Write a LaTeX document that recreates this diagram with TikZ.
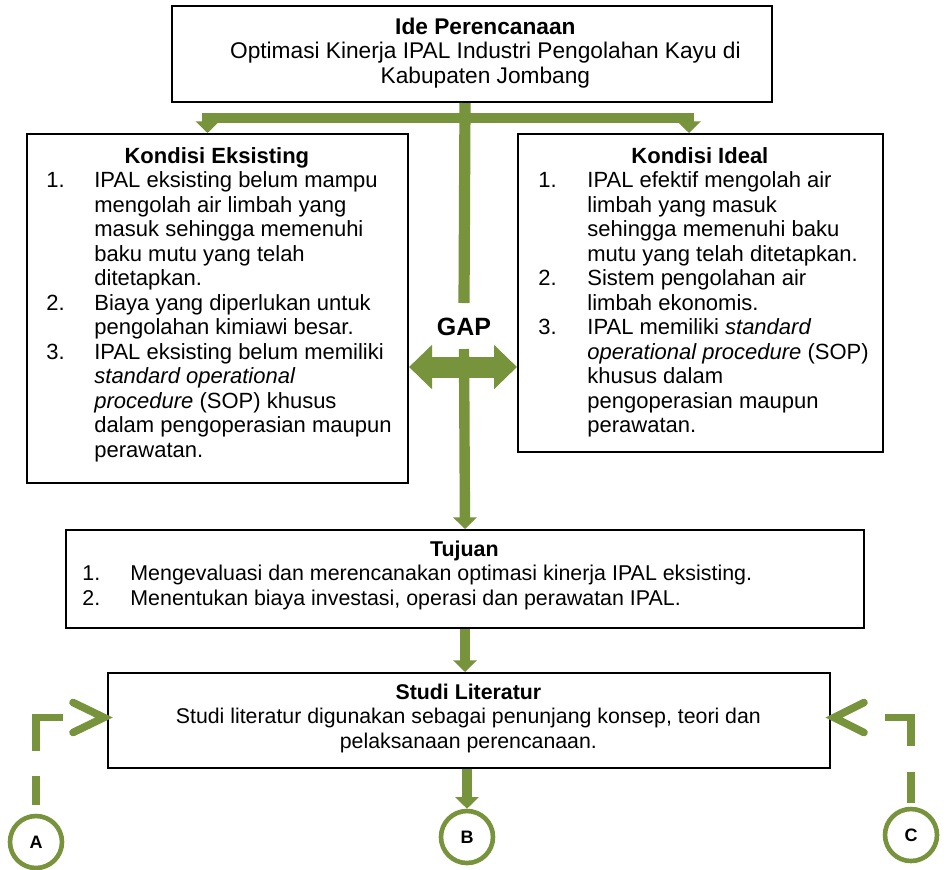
\documentclass[tikz,border=0pt]{standalone}
\usepackage{fontspec}
\setmainfont{Liberation Sans}
\usetikzlibrary{arrows.meta,calc}
\definecolor{olivegreen}{RGB}{119,147,60}

% list helpers: number column offset and text column offset
\newlength\numin
\newlength\numgap
\newcommand\itemline[2]{\hspace*{\numin}\makebox[\numgap][l]{#1}#2\par}
\newcommand\contline[1]{\hspace*{\numin}\hspace*{\numgap}#1\par}
\newcommand\boxtitle[1]{{\centering\textbf{#1}\par}}

\tikzset{
  box/.style={draw=black, line width=1pt, fill=white, inner sep=0pt, anchor=north west},
  txt/.style={inner sep=0pt, anchor=base west, font=\fontsize{11pt}{12.25pt}\selectfont},
  flow/.style={draw=olivegreen, line width=5.2pt, -{Triangle[width=11.5pt,length=5.8pt]}},
  stem/.style={draw=olivegreen, line width=5.6pt},
  gaparrow/.style={draw=olivegreen, line width=10.5pt,
    {Triangle[width=21.5pt,length=11.5pt]}-{Triangle[width=21.5pt,length=11.5pt]}},
  conn/.style={circle, draw=olivegreen, line width=2.3pt, minimum size=26pt,
    inner sep=0pt, fill=white, font=\bfseries\fontsize{9pt}{10pt}\selectfont},
  dlink/.style={draw=olivegreen, line width=3.6pt},
  chev/.style={draw=olivegreen, line width=3.8pt, line cap=round, line join=miter}
}

\begin{document}
\begin{tikzpicture}[x=0.5pt, y=-0.5pt]
\useasboundingbox (0,0) rectangle (946,869);
\fill[white] (0,0) rectangle (946,869);

% boxes
\node[box, minimum width=300pt, minimum height=48pt] (ide) at (171,5) {};
\node[box, minimum width=190.5pt, minimum height=174.5pt] (eks) at (26,133) {};
\node[box, minimum width=182.5pt, minimum height=159pt] (ideal) at (517,133) {};
\node[box, minimum width=399pt, minimum height=49pt] (tuj) at (65,529) {};
\node[box, minimum width=361pt, minimum height=47.5pt] (studi) at (107,672) {};

% box texts
\node[txt, font=\fontsize{11.35pt}{12.25pt}\selectfont] (ideT) at ($(ide.north west)+(14,29)$) {\begin{minipage}[t]{300pt}\centering
\textbf{Ide Perencanaan}\par
Optimasi Kinerja IPAL Industri Pengolahan Kayu di\par
Kabupaten Jombang\par
\end{minipage}};

\node[txt] (eksT) at ($(eks.north west)+(0,30)$) {\begin{minipage}[t]{190.5pt}
\setlength\numin{10pt}\setlength\numgap{24pt}%
\boxtitle{Kondisi Eksisting}
\itemline{1.}{IPAL eksisting belum mampu}
\contline{mengolah air limbah yang}
\contline{masuk sehingga memenuhi}
\contline{baku mutu yang telah}
\contline{ditetapkan.}
\itemline{2.}{Biaya yang diperlukan untuk}
\contline{pengolahan kimiawi besar.}
\itemline{3.}{IPAL eksisting belum memiliki}
\contline{\textit{standard operational}}
\contline{\textit{procedure} (SOP) khusus}
\contline{dalam pengoperasian maupun}
\contline{perawatan.}
\end{minipage}};

\node[txt] (idealT) at ($(ideal.north west)+(0,30)$) {\begin{minipage}[t]{182.5pt}
\setlength\numin{10.5pt}\setlength\numgap{24.5pt}%
\boxtitle{Kondisi Ideal}
\itemline{1.}{IPAL efektif mengolah air}
\contline{limbah yang masuk}
\contline{sehingga memenuhi baku}
\contline{mutu yang telah ditetapkan.}
\itemline{2.}{Sistem pengolahan air}
\contline{limbah ekonomis.}
\itemline{3.}{IPAL memiliki \textit{standard}}
\contline{\textit{operational procedure} (SOP)}
\contline{khusus dalam}
\contline{pengoperasian maupun}
\contline{perawatan.}
\end{minipage}};

\node[txt, font=\fontsize{10.7pt}{12.25pt}\selectfont] (tujT) at ($(tuj.north west)+(0,27)$) {\begin{minipage}[t]{399pt}
\setlength\numin{8.5pt}\setlength\numgap{24pt}%
\boxtitle{Tujuan}
\itemline{1.}{Mengevaluasi dan merencanakan optimasi kinerja IPAL eksisting.}
\itemline{2.}{Menentukan biaya investasi, operasi dan perawatan IPAL.}
\end{minipage}};

\node[txt, font=\fontsize{10.65pt}{12.25pt}\selectfont] (studiT) at ($(studi.north west)+(0,27)$) {\begin{minipage}[t]{361pt}\centering
\textbf{Studi Literatur}\par
Studi literatur digunakan sebagai penunjang konsep, teori dan\par
pelaksanaan perencanaan.\par
\end{minipage}};

% connector circles
\node[conn] (A) at (36,842) {A};
\node[conn] (B) at (467,837) {B};
\node[conn] (C) at (911,835) {C};

% main stem and branches from the idea box
\coordinate (stemtop) at (ide.south -| tuj.north);
\coordinate (barmid) at (464,118);
\coordinate (stemend) at (464,303);
\draw[stem] (stemtop) -- (stemend);
\draw[flow] (barmid) -| ([xshift=-5pt]eks.north);
\draw[flow] (barmid) -| ([xshift=-5.75pt]ideal.north);

% gap between existing and ideal conditions
\node[font=\bfseries\fontsize{12.5pt}{14pt}\selectfont, inner sep=0pt] (gaplbl) at (464,327) {GAP};
\coordinate (gapmid) at (464,367);
\coordinate (downstart) at (464,349);
\draw[flow] (downstart) -- (tuj.north);
\draw[gaparrow] (gapmid -| eks.east) -- (gapmid -| ideal.west);

% goals -> literature -> B
\draw[flow] (tuj.south) -- (tuj.south |- studi.north);
\draw[flow] (studi.south -| B.north) -- (B.north);

% dashed feedback links from A and C
\coordinate (sl) at ($(studi.west)+(0,-3)$);
\coordinate (sr) at ($(studi.east)+(0,-3)$);
\draw[dlink, dash pattern=on 0pt off 4.5pt on 14.5pt off 12.5pt on 40pt off 20pt]
  (A.north) |- ($(sl)+(-44,0)$);
\draw[chev] ($(sl)+(-34,-15)$) -- ($(sl)+(-3,0)$) -- ($(sl)+(-34,15)$);
\draw[dlink, dash pattern=on 0pt off 2pt on 15.5pt off 13pt on 40pt off 20pt]
  (C.north) |- ($(sr)+(54,0)$);
\draw[chev] ($(sr)+(33,-15)$) -- ($(sr)+(3,0)$) -- ($(sr)+(33,15)$);
\end{tikzpicture}
\end{document}
